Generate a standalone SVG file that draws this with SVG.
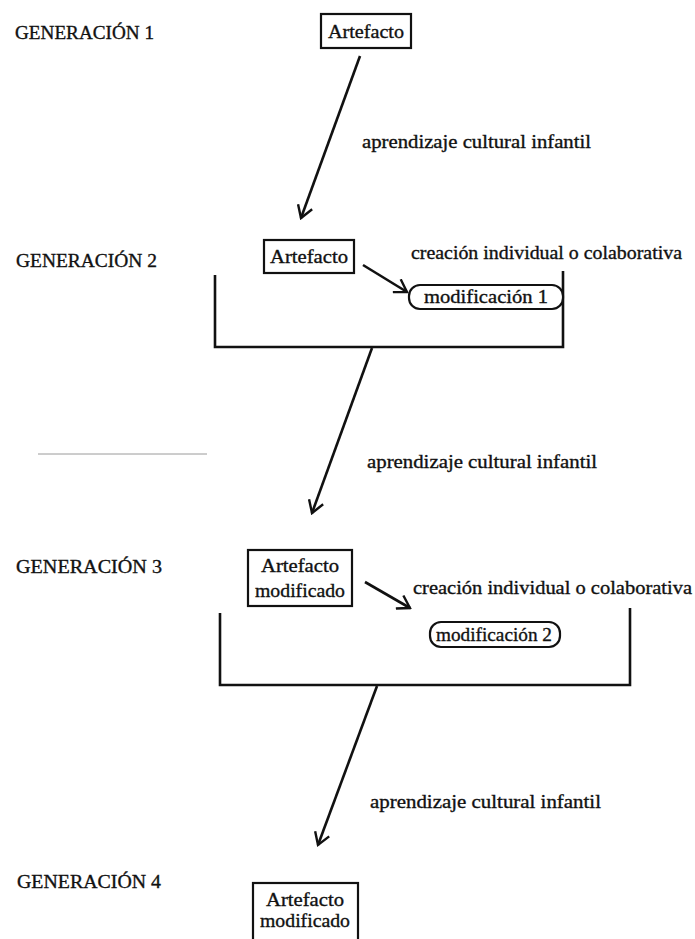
<svg xmlns="http://www.w3.org/2000/svg" width="695" height="939" viewBox="0 0 695 939">
  <style>
    text { font-family: "Liberation Serif", "DejaVu Serif", serif; fill: #111; stroke: #111; stroke-width: 0.35; }
    .gen { font-size: 19px; }
    .lbl { font-size: 19px; }
    .box { fill: #fff; stroke: #111; stroke-width: 2.2; }
    .pill { fill: #fff; stroke: #111; stroke-width: 2.2; }
    .bracket { fill: none; stroke: #111; stroke-width: 2.6; }
    .arrow { fill: none; stroke: #111; stroke-width: 2.6; marker-end: url(#chev); }
  </style>
  <defs>
    <marker id="chev" viewBox="0 0 15 17" refX="13" refY="8.5" markerWidth="15" markerHeight="17" markerUnits="userSpaceOnUse" orient="auto">
      <path d="M1,1 L13,8.5 L1,16" fill="none" stroke="#111" stroke-width="2.4" stroke-linejoin="miter"/>
    </marker>
  </defs>
  <rect width="695" height="939" fill="#fff"/>

  <!-- generation labels -->
  <g id="generations">
    <text class="gen" x="15" y="39" textLength="139" lengthAdjust="spacingAndGlyphs">GENERACIÓN 1</text>
    <text class="gen" x="16" y="267" textLength="141" lengthAdjust="spacingAndGlyphs">GENERACIÓN 2</text>
    <text class="gen" x="16" y="573" textLength="146" lengthAdjust="spacingAndGlyphs">GENERACIÓN 3</text>
    <text class="gen" x="17" y="888" textLength="144" lengthAdjust="spacingAndGlyphs">GENERACIÓN 4</text>
  </g>

  <!-- brackets grouping each generation's work -->
  <g id="brackets">
    <path class="bracket" d="M215,275 V347 H563 V271"/>
    <path class="bracket" d="M220,613 V685 H630 V608"/>
  </g>

  <!-- connectors -->
  <g id="connectors">
    <line class="arrow" x1="360" y1="56" x2="301" y2="218"/>
    <line class="arrow" x1="363" y1="265" x2="407" y2="292"/>
    <line class="arrow" x1="372" y1="348" x2="312" y2="513"/>
    <line class="arrow" x1="365" y1="582" x2="410" y2="608"/>
    <line class="arrow" x1="377" y1="686" x2="318" y2="845"/>
    <line x1="38" y1="454" x2="207" y2="454" stroke="#9a9a9a" stroke-width="1"/>
  </g>

  <!-- connector labels -->
  <g id="labels">
    <text class="lbl" x="362" y="148" textLength="229" lengthAdjust="spacingAndGlyphs">aprendizaje cultural infantil</text>
    <text class="lbl" x="411" y="259" textLength="271" lengthAdjust="spacingAndGlyphs">creación individual o colaborativa</text>
    <text class="lbl" x="367" y="468" textLength="230" lengthAdjust="spacingAndGlyphs">aprendizaje cultural infantil</text>
    <text class="lbl" x="413" y="594" textLength="279" lengthAdjust="spacingAndGlyphs">creación individual o colaborativa</text>
    <text class="lbl" x="370" y="808" textLength="231" lengthAdjust="spacingAndGlyphs">aprendizaje cultural infantil</text>
  </g>

  <!-- nodes -->
  <g id="artefacto-1">
    <rect class="box" x="321" y="14" width="90" height="34"/>
    <text class="lbl" x="366" y="38" text-anchor="middle" textLength="76" lengthAdjust="spacingAndGlyphs">Artefacto</text>
  </g>
  <g id="artefacto-2">
    <rect class="box" x="264" y="240" width="90" height="33"/>
    <text class="lbl" x="309" y="263" text-anchor="middle" textLength="78" lengthAdjust="spacingAndGlyphs">Artefacto</text>
  </g>
  <g id="modificacion-1">
    <rect class="pill" x="409" y="285" width="154" height="24" rx="11" ry="11"/>
    <text class="lbl" x="486" y="303" text-anchor="middle" textLength="124" lengthAdjust="spacingAndGlyphs">modificación 1</text>
  </g>
  <g id="artefacto-3">
    <rect class="box" x="248" y="550" width="104" height="56"/>
    <text class="lbl" x="300" y="572" text-anchor="middle" textLength="78" lengthAdjust="spacingAndGlyphs">Artefacto</text>
    <text class="lbl" x="300" y="597" text-anchor="middle" textLength="90" lengthAdjust="spacingAndGlyphs">modificado</text>
  </g>
  <g id="modificacion-2">
    <rect class="pill" x="430" y="622" width="130" height="25" rx="11" ry="11"/>
    <text class="lbl" x="494" y="641" text-anchor="middle" textLength="116" lengthAdjust="spacingAndGlyphs">modificación 2</text>
  </g>
  <g id="artefacto-4">
    <rect class="box" x="253" y="883" width="105" height="60"/>
    <text class="lbl" x="305" y="906" text-anchor="middle" textLength="78" lengthAdjust="spacingAndGlyphs">Artefacto</text>
    <text class="lbl" x="305" y="927" text-anchor="middle" textLength="90" lengthAdjust="spacingAndGlyphs">modificado</text>
  </g>
</svg>
